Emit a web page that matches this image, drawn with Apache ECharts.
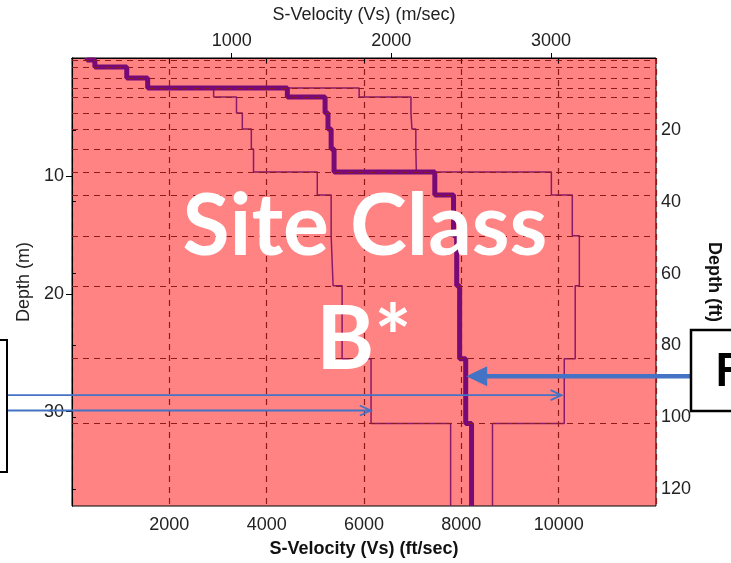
<!DOCTYPE html>
<html>
<head>
<meta charset="utf-8">
<script src="https://cdn.jsdelivr.net/npm/echarts@6/dist/echarts.min.js"></script>
<style>
  html, body { margin: 0; padding: 0; background: #fff; }
  #main { width: 731px; height: 563px; }
</style>
</head>
<body>
<div id="main"></div>
<script>
// layer boundaries (depth, m) and Vs per layer (ft/sec)
const depthBounds = [0, 0.17, 0.76, 1.69, 2.54, 3.3, 4.66, 6.02, 7.71, 9.66, 11.61, 15.08, 19.32, 25.5, 31.0, 38]
const vsBest  = [310, 470, 1125, 1555, 4425, 5200, 5260, 5325, 5385, 7455, 7840, 7905, 7965, 8090, 8210]
const vsLower = [310, 470, 1125, 1555, 2910, 3380, 3500, 3685, 3730, 5040, 5325, 5365, 5550, 6145, 7780]
const vsUpper = [310, 470, 1125, 1555, 5900, 6965, 6985, 7065, 7075, 9850, 10280, 10425, 10340, 10115, 8640]

// tick labels
const ftTicks = [2000, 4000, 6000, 8000, 10000]
const mTicks = [1000, 2000, 3000]
const depthMTicks = [10, 20, 30]
const depthFtTicks = [20, 40, 60, 80, 100, 120]

// callout arrows: [Vs ft/sec, depth m]
const bigArrow = [8100, 27.0]
const thinArrows = [[10060, 28.6], [6140, 29.9]]

const FT = 3.28084
const VS_MAX = 12000
const DEPTH_MAX = 38
const AXIS_FONT = 'Liberation Sans'
const BLUE = '#4472c4'

const stepLine = vs => {
  const pts = []
  vs.forEach((v, i) => {
    pts.push([v, depthBounds[i]])
    pts.push([v, depthBounds[i + 1]])
  })
  return pts
}

const onlyTicks = list => v => (list.indexOf(Math.round(v)) >= 0 ? String(Math.round(v)) : '')

const chart = echarts.init(document.getElementById('main'))

const option = {
  animation: false,
  grid: {
    left: 72, top: 58, width: 586, height: 449,
    show: true,
    backgroundColor: '#ff8383',
    borderColor: '#000',
    borderWidth: 1
  },
  xAxis: [
    {
      type: 'value', position: 'bottom',
      min: 0, max: VS_MAX, interval: 2000,
      name: 'S-Velocity (Vs) (ft/sec)',
      nameLocation: 'middle', nameGap: 34,
      nameTextStyle: { fontFamily: AXIS_FONT, fontWeight: 'bold', fontSize: 18, color: '#111' },
      axisLine: { show: true, lineStyle: { color: '#000' } },
      axisTick: { show: true, length: 5, lineStyle: { color: '#000' } },
      axisLabel: { fontFamily: AXIS_FONT, fontSize: 18, color: '#222', margin: 10,
        showMinLabel: false, showMaxLabel: false, formatter: onlyTicks(ftTicks) },
      splitLine: { show: true, lineStyle: { color: '#8e1b1b', type: [6, 5], width: 1.2 } }
    },
    {
      type: 'value', position: 'top',
      min: 0, max: VS_MAX / FT, interval: 1000,
      name: 'S-Velocity (Vs) (m/sec)',
      nameLocation: 'middle', nameGap: 34,
      nameTextStyle: { fontFamily: AXIS_FONT, fontSize: 18, color: '#222' },
      axisLine: { show: true, lineStyle: { color: '#000' } },
      axisTick: { show: true, length: 5, lineStyle: { color: '#000' } },
      axisLabel: { fontFamily: AXIS_FONT, fontSize: 18, color: '#222', margin: 8,
        showMinLabel: false, showMaxLabel: false, formatter: onlyTicks(mTicks) },
      splitLine: { show: false }
    }
  ],
  yAxis: [
    {
      type: 'value', position: 'left', inverse: true,
      min: 0, max: DEPTH_MAX, interval: 10,
      name: 'Depth (m)',
      nameLocation: 'middle', nameGap: 38, nameRotate: 90,
      nameTextStyle: { fontFamily: AXIS_FONT, fontSize: 18, color: '#222' },
      axisLine: { show: true, lineStyle: { color: '#000' } },
      axisTick: { show: true, length: 6, lineStyle: { color: '#000' } },
      axisLabel: { fontFamily: AXIS_FONT, fontSize: 18, color: '#222', margin: 8,
        showMinLabel: false, showMaxLabel: false, formatter: onlyTicks(depthMTicks) },
      splitLine: { show: false }
    },
    {
      type: 'value', position: 'right', inverse: true,
      min: 0, max: DEPTH_MAX * FT, interval: 20,
      name: 'Depth (ft)',
      nameLocation: 'middle', nameGap: 49, nameRotate: -90,
      nameTextStyle: { fontFamily: AXIS_FONT, fontWeight: 'bold', fontSize: 18, color: '#111' },
      axisLine: { show: true, lineStyle: { color: '#000' } },
      axisTick: { show: true, length: 4, lineStyle: { color: '#000' } },
      axisLabel: { fontFamily: AXIS_FONT, fontSize: 18, color: '#222', margin: 5,
        showMinLabel: false, showMaxLabel: false, formatter: onlyTicks(depthFtTicks) },
      splitLine: { show: false }
    }
  ],
  series: [
    {
      // layer boundaries as dashed horizontal grid
      type: 'line', data: [], silent: true,
      markLine: {
        silent: true, symbol: 'none', animation: false,
        label: { show: false },
        lineStyle: { color: '#8e1b1b', type: [6, 5], width: 1.2 },
        data: depthBounds.slice(1, -1).map(d => ({ yAxis: d }))
      }
    },
    {
      name: 'lower', type: 'line', data: stepLine(vsLower), showSymbol: false, symbol: 'none',
      lineStyle: { color: '#8a1a6a', width: 1.5 }, z: 3
    },
    {
      name: 'upper', type: 'line', data: stepLine(vsUpper), showSymbol: false, symbol: 'none',
      lineStyle: { color: '#8a1a6a', width: 1.5 }, z: 3
    },
    {
      name: 'best', type: 'line', data: stepLine(vsBest), showSymbol: false, symbol: 'none',
      lineStyle: { color: '#780a78', width: 5 }, z: 4
    }
  ]
}

chart.setOption(option)

// callouts placed from data coordinates
const toPx = p => chart.convertToPixel({ xAxisIndex: 0, yAxisIndex: 0 }, p)
const graphics = []

const big = toPx(bigArrow)
graphics.push(
  { type: 'line', shape: { x1: big[0] + 16, y1: big[1], x2: 692, y2: big[1] },
    style: { stroke: BLUE, lineWidth: 4.5 }, z: 50 },
  { type: 'polygon', shape: { points: [[big[0], big[1]], [big[0] + 21, big[1] - 10], [big[0] + 21, big[1] + 10]] },
    style: { fill: BLUE }, z: 50 }
)
thinArrows.forEach(a => {
  const p = toPx(a)
  graphics.push(
    { type: 'line', shape: { x1: 6, y1: p[1], x2: p[0], y2: p[1] },
      style: { stroke: BLUE, lineWidth: 1.8 }, z: 50 },
    { type: 'polyline', shape: { points: [[p[0] - 11, p[1] - 5], [p[0], p[1]], [p[0] - 11, p[1] + 5]] },
      style: { stroke: BLUE, lineWidth: 1.8, fill: null }, z: 50 }
  )
})

graphics.push(
  { type: 'rect', shape: { x: -20, y: 340, width: 27, height: 132 },
    style: { fill: '#fff', stroke: '#000', lineWidth: 2 }, z: 60 },
  { type: 'rect', shape: { x: 691, y: 330, width: 60, height: 81 },
    style: { fill: '#fff', stroke: '#000', lineWidth: 2.5 }, z: 60 },
  { type: 'text', x: 715, y: 371,
    style: { text: 'F', font: 'bold 46px Lato', fill: '#000', align: 'left', verticalAlign: 'middle' }, z: 61 },
  { type: 'text', x: 365, y: 227,
    style: { text: 'Site Class', font: 'bold 86px Lato', fill: '#fff', align: 'center', verticalAlign: 'middle' }, z: 70 },
  { type: 'text', x: 364, y: 341,
    style: { text: 'B*', font: 'bold 88px Lato', fill: '#fff', align: 'center', verticalAlign: 'middle' }, z: 70 }
)

chart.setOption({ graphic: graphics })
</script>
</body>
</html>
